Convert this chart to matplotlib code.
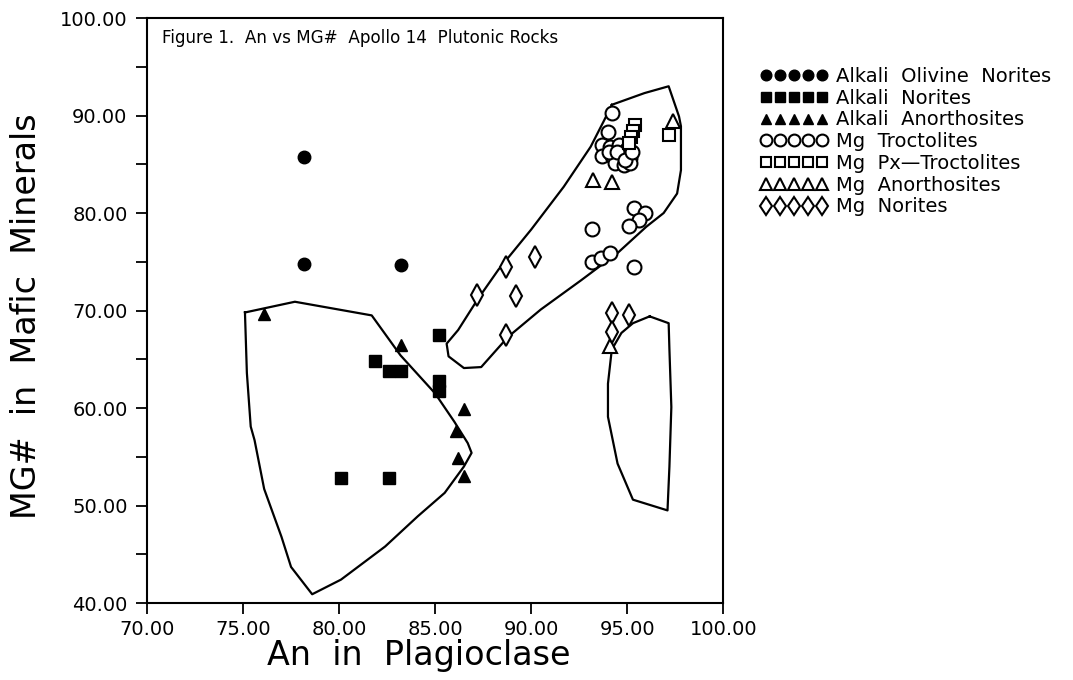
import matplotlib
matplotlib.use("Agg")
import matplotlib.pyplot as plt
from matplotlib.ticker import MultipleLocator, FormatStrFormatter

# ---- data (An in plagioclase, MG# in mafic minerals) ----
alk_ol_nor_x = [78.2, 78.2, 83.2]
alk_ol_nor_y = [85.7, 74.8, 74.7]

alk_nor_x = [85.2, 81.85, 82.6, 83.2, 85.2, 85.2, 80.1, 82.6]
alk_nor_y = [67.5, 64.8, 63.8, 63.8, 62.8, 61.7, 52.8, 52.8]

alk_anor_x = [76.1, 83.2, 86.5, 86.1, 86.2, 86.5]
alk_anor_y = [69.6, 66.5, 59.9, 57.6, 54.9, 53.0]

mg_troc_x = [94.2, 94.0, 93.70, 93.70, 94.13, 94.22, 94.56, 94.74, 95.0, 95.17,
             94.39, 94.82, 95.17, 94.04, 94.48, 94.91, 95.26,
             93.18, 95.34, 95.95, 95.6, 95.08, 93.18, 93.65, 94.1, 95.34]
mg_troc_y = [90.3, 88.3, 87.0, 85.8, 86.8, 85.8, 87.0, 85.9, 86.6, 85.6,
             85.1, 84.9, 85.1, 86.3, 86.3, 85.4, 86.3,
             78.4, 80.5, 80.0, 79.3, 78.7, 75.0, 75.4, 75.9, 74.5]

mg_pxtroc_x = [97.2, 95.4, 95.3, 95.2, 95.1]
mg_pxtroc_y = [88.0, 89.0, 88.4, 87.8, 87.2]

mg_anor_x = [93.2, 94.2, 97.4, 94.1]
mg_anor_y = [83.4, 83.2, 89.4, 66.4]

mg_nor_x = [87.2, 88.7, 90.2, 89.2, 88.7, 94.2, 94.2, 95.1]
mg_nor_y = [71.6, 74.5, 75.5, 71.5, 67.5, 69.7, 67.8, 69.5]

# field outlines
alk_field_x = [75.1, 77.7, 81.7, 83.2, 85.0, 86.0, 86.7, 86.9, 86.5, 85.5, 84.1,
               82.4, 80.1, 78.6, 77.5, 77.0, 76.1, 75.6, 75.4, 75.2, 75.1]
alk_field_y = [69.8, 70.9, 69.5, 65.4, 61.5, 58.6, 56.4, 55.4, 54.0, 51.3, 48.9,
               45.8, 42.4, 40.9, 43.7, 46.8, 51.7, 56.7, 58.1, 63.6, 69.8]

mg_field_x = [94.2, 95.9, 97.16, 97.7, 97.8, 97.8, 97.6, 96.9, 96.0, 94.5, 92.6,
              90.5, 88.8, 87.4, 86.5, 85.7, 85.6, 86.2, 87.2, 88.3, 90.0, 91.7,
              93.1, 93.8, 94.2]
mg_field_y = [91.1, 92.3, 93.0, 89.9, 88.9, 84.4, 82.0, 80.0, 78.6, 75.9, 73.1,
              70.1, 67.3, 64.2, 64.1, 65.3, 66.6, 68.0, 71.1, 74.2, 78.3, 82.7,
              86.8, 89.5, 91.1]

small_field_x = [96.17, 97.16, 97.2, 97.3, 97.2, 97.1, 95.3, 94.5, 94.0, 94.0,
                 94.2, 94.7, 95.3, 96.17]
small_field_y = [69.4, 68.7, 66.0, 60.1, 54.0, 49.5, 50.6, 54.3, 59.1, 62.5,
                 66.0, 67.7, 68.7, 69.4]

x_ticks = [70, 75, 80, 85, 90, 95, 100]
y_ticks = [40, 50, 60, 70, 80, 90, 100]

# ---- figure ----
W, H = 1073, 680
fig = plt.figure(figsize=(W / 100, H / 100), dpi=100)
ax = fig.add_axes([0.137, 0.1132, 0.537, 0.8603])

lw_field = 1.6
ax.plot(alk_field_x, alk_field_y, color="black", lw=lw_field)
ax.plot(mg_field_x, mg_field_y, color="black", lw=lw_field)
ax.plot(small_field_x, small_field_y, color="black", lw=lw_field)

ms = 9
mew = 1.5
ax.plot(alk_ol_nor_x, alk_ol_nor_y, ls="none", marker="o", ms=ms, mfc="black",
        mec="black", label="Alkali  Olivine  Norites")
ax.plot(alk_nor_x, alk_nor_y, ls="none", marker="s", ms=ms, mfc="black",
        mec="black", label="Alkali  Norites")
ax.plot(alk_anor_x, alk_anor_y, ls="none", marker="^", ms=ms, mfc="black",
        mec="black", label="Alkali  Anorthosites")
ax.plot(mg_troc_x, mg_troc_y, ls="none", marker="o", ms=ms + 1, mfc="white",
        mec="black", mew=mew, label="Mg  Troctolites")
ax.plot(mg_pxtroc_x, mg_pxtroc_y, ls="none", marker="s", ms=ms, mfc="white",
        mec="black", mew=mew, label="Mg  Px\u2014Troctolites")
ax.plot(mg_anor_x, mg_anor_y, ls="none", marker="^", ms=ms + 1, mfc="white",
        mec="black", mew=mew, label="Mg  Anorthosites")
ax.plot(mg_nor_x, mg_nor_y, ls="none", marker="d", ms=ms + 2, mfc="white",
        mec="black", mew=mew, label="Mg  Norites")

ax.text(70.8, 97.9, "Figure 1.  An vs MG#  Apollo 14  Plutonic Rocks",
        fontsize=12.1, va="center", ha="left")

ax.set_xlim(70, 100)
ax.set_ylim(40, 100)
ax.set_xticks(x_ticks)
ax.set_yticks(y_ticks)
ax.yaxis.set_minor_locator(MultipleLocator(5))
ax.xaxis.set_major_formatter(FormatStrFormatter("%.2f"))
ax.yaxis.set_major_formatter(FormatStrFormatter("%.2f"))
ax.tick_params(axis="both", which="major", labelsize=14, direction="out",
               length=8, width=1.3, pad=4)
ax.tick_params(axis="y", which="major", pad=6)
ax.tick_params(axis="y", which="minor", direction="out", length=8, width=1.3)
for sp in ax.spines.values():
    sp.set_linewidth(1.5)

ax.set_xlabel("An  in  Plagioclase", fontsize=24)
ax.xaxis.set_label_coords((419 - 147) / 576, -(655 - 603) / 585)
ax.set_ylabel("MG#  in  Mafic  Minerals", fontsize=24)
ax.yaxis.set_label_coords(-(147 - 27) / 576, (603 - 316) / 585)
ax.xaxis.label.set_va("center")
ax.yaxis.label.set_va("center")

leg = fig.legend(*ax.get_legend_handles_labels(), loc="upper left",
                 bbox_to_anchor=(760 / W, 1 - 67 / H), frameon=False,
                 numpoints=5, markerscale=0.85, fontsize=14, handlelength=3.5,
                 handletextpad=0.4, labelspacing=0.14, borderaxespad=0,
                 borderpad=0)

fig.savefig("out.png", dpi=100)
